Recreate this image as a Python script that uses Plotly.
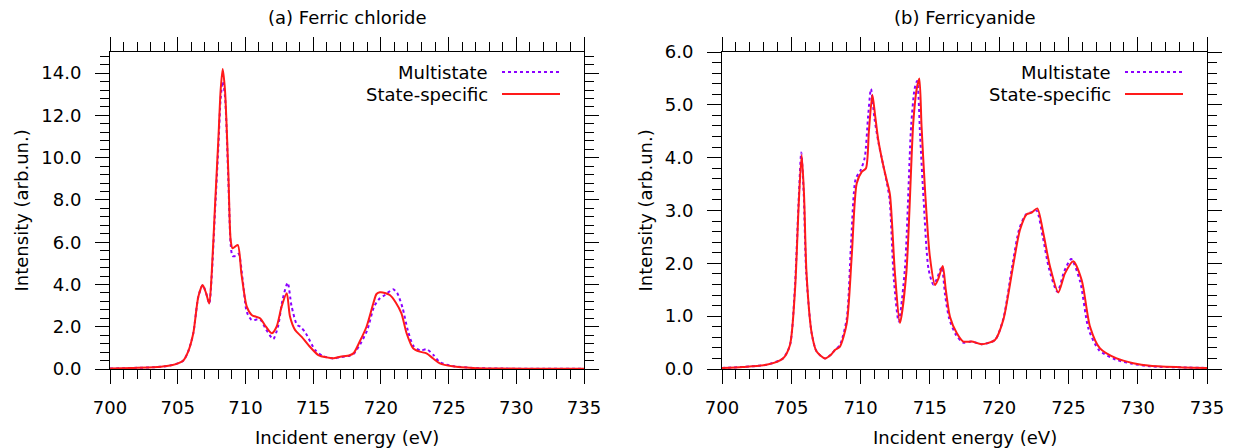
import plotly.graph_objects as go

W, H = 1234, 448

# ---------------- data ----------------
# (a) Ferric chloride
E_a_ms = [700, 701.7, 703.2, 704.2, 704.8, 705.4, 705.77, 706.15, 706.52, 706.84, 707.1, 707.33, 707.51,
          707.75, 708.0, 708.17, 708.32, 708.49, 708.74, 708.91, 709.05, 709.3, 709.5, 709.8, 710.1, 710.46,
          711.08, 711.5, 712.05, 712.4, 712.75, 713.12, 713.4, 713.8, 714.1, 714.45, 715.15, 715.7, 716.5,
          717.0, 717.7, 718.0, 718.5, 719.0, 719.5, 719.93, 720.3, 720.9, 721.2, 721.6, 722.0, 722.4, 722.9,
          723.4, 723.9, 724.35, 725.3, 726.8, 729, 732, 735]
I_a_ms = [0.02, 0.05, 0.08, 0.14, 0.22, 0.39, 0.82, 1.69, 3.42, 3.97, 3.58, 3.1, 4.4,
          7.4, 10.5, 12.8, 13.6, 12.9, 8.9, 5.9, 5.35, 5.35, 5.45, 4.2, 2.7, 2.32,
          2.35, 1.9, 1.42, 2.0, 3.3, 4.08, 3.0, 2.1, 1.98, 1.7, 0.9, 0.62, 0.5,
          0.56, 0.63, 0.72, 1.2, 1.85, 2.95, 3.35, 3.5, 3.77, 3.6, 2.9, 1.8, 1.1, 0.88,
          0.93, 0.65, 0.32, 0.14, 0.05, 0.02, 0.01, 0.01]

E_a_ss = [700, 701.7, 703.2, 704.2, 704.8, 705.4, 705.77, 706.15, 706.52, 706.84, 707.1, 707.33, 707.51,
          707.75, 708.0, 708.17, 708.32, 708.49, 708.74, 708.91, 709.05, 709.43, 709.7, 710.1, 710.46,
          711.08, 711.43, 711.94, 712.3, 712.67, 713.05, 713.29, 713.66, 714.14, 714.64, 715.38, 716.0,
          716.5, 717.0, 717.7, 718.0, 718.44, 718.94, 719.44, 719.68, 719.93, 720.3, 720.66, 721.1, 721.52,
          721.9, 722.38, 722.87, 723.37, 723.86, 724.35, 725.3, 726.8, 729, 732, 735]
I_a_ss = [0.02, 0.05, 0.08, 0.14, 0.22, 0.39, 0.82, 1.69, 3.42, 3.97, 3.58, 3.1, 4.53,
          7.68, 10.84, 13.2, 14.2, 13.2, 9.26, 6.1, 5.71, 5.87, 4.53, 2.95, 2.56,
          2.4, 2.08, 1.69, 2.0, 2.95, 3.58, 2.48, 1.85, 1.53, 1.14, 0.66, 0.55,
          0.51, 0.58, 0.65, 0.76, 1.3, 2.0, 3.1, 3.55, 3.63, 3.6, 3.5, 3.15, 2.63,
          1.69, 0.98, 0.82, 0.74, 0.5, 0.27, 0.13, 0.05, 0.02, 0.01, 0.01]

# (b) Ferricyanide
E_b_ms = [700, 701.5, 703.2, 704.4, 704.9, 705.25, 705.55, 705.72, 705.9, 706.08, 706.47, 706.83, 707.43,
          707.9, 708.15, 708.5, 709.0, 709.3, 709.65, 710.0, 710.3, 710.55, 710.75, 711.0, 711.28, 711.6,
          711.88, 712.1, 712.4, 712.75, 713.2, 713.65, 713.9, 714.08, 714.3, 714.55, 714.9, 715.25, 715.5,
          715.85, 716.1, 716.4, 716.9, 717.41, 718.02, 718.74, 719.7, 720.3, 720.95, 721.45, 721.95, 722.35,
          722.7, 723.15, 723.6, 724.2, 724.7, 725.2, 725.85, 726.45, 727.2, 728.4, 729.6, 730.9, 733.3, 735]
I_b_ms = [0.02, 0.04, 0.08, 0.2, 0.45, 1.5, 3.3, 4.1, 3.3, 1.81, 0.68, 0.33, 0.2,
          0.28, 0.36, 0.45, 0.95, 2.3, 3.6, 3.76, 4.0, 4.8, 5.3, 4.75, 4.3, 3.9,
          3.55, 3.2, 1.7, 0.9, 1.9, 4.6, 5.3, 5.45, 4.4, 3.2, 1.9, 1.6, 1.7,
          1.93, 1.4, 0.95, 0.64, 0.5, 0.52, 0.47, 0.55, 0.95, 1.96, 2.65, 2.93, 2.97,
          3.0, 2.5, 1.9, 1.46, 1.85, 2.08, 1.65, 0.76, 0.36, 0.18, 0.1, 0.05, 0.03, 0.02]

E_b_ss = [700, 701.5, 703.2, 704.4, 704.9, 705.27, 705.55, 705.75, 705.92, 706.1, 706.47, 706.83, 707.43,
          707.9, 708.15, 708.5, 709.0, 709.36, 709.72, 710.08, 710.39, 710.6, 710.85, 711.05, 711.28, 711.6,
          711.88, 712.12, 712.48, 712.84, 713.3, 713.8, 714.05, 714.24, 714.4, 714.65, 715.0, 715.37, 715.6,
          715.93, 716.15, 716.45, 716.94, 717.41, 718.02, 718.74, 719.7, 720.3, 721.0, 721.5, 721.99, 722.35,
          722.75, 723.19, 723.67, 724.27, 724.75, 725.35, 725.96, 726.56, 727.28, 728.48, 729.68, 730.9, 733.3, 735]
I_b_ss = [0.02, 0.04, 0.08, 0.2, 0.45, 1.5, 3.2, 4.05, 3.3, 1.81, 0.68, 0.33, 0.2,
          0.28, 0.36, 0.42, 0.86, 2.13, 3.51, 3.73, 3.8, 4.5, 5.19, 4.8, 4.33, 3.9,
          3.58, 3.3, 1.81, 0.87, 1.81, 4.65, 5.3, 5.5, 4.6, 3.39, 2.13, 1.59, 1.7,
          1.95, 1.5, 0.99, 0.68, 0.52, 0.52, 0.47, 0.55, 0.93, 1.94, 2.63, 2.93, 2.96,
          3.04, 2.57, 1.94, 1.45, 1.81, 2.04, 1.68, 0.8, 0.39, 0.2, 0.11, 0.06, 0.03, 0.02]

series_names = ["Multistate", "State-specific"]
panel_titles = ["(a) Ferric chloride", "(b) Ferricyanide"]
x_title = "Incident energy (eV)"
y_title = "Intensity (arb.un.)"

# ---------------- style ----------------
FONT = "DejaVu Sans"
FS = 18
C_MS = "#8b00ff"
C_SS = "#ff1a1a"

def px(x):
    return x / W

def py(y):
    return 1 - y / H

# plot areas (pixels)
A_L, A_R = 110, 584
B_L, B_R = 722, 1207
TOP, BOT = 52, 369

fig = go.Figure()

def add(xs, ys, name, color, dash, xa, ya):
    fig.add_trace(go.Scatter(x=xs, y=ys, mode="lines", name=name, showlegend=False,
                             line=dict(color=color, width=2, dash=dash, shape="spline", smoothing=0.7),
                             xaxis=xa, yaxis=ya))

add(E_a_ms, I_a_ms, series_names[0], C_MS, "dot", "x", "y")
add(E_a_ss, I_a_ss, series_names[1], C_SS, "solid", "x", "y")
add(E_b_ms, I_b_ms, series_names[0], C_MS, "dot", "x2", "y2")
add(E_b_ss, I_b_ss, series_names[1], C_SS, "solid", "x2", "y2")

common = dict(showline=True, linecolor="black", linewidth=1, mirror="ticks",
              ticks="outside", ticklen=14, tickwidth=1, tickcolor="black",
              showgrid=False, zeroline=False, automargin=False,
              tickfont=dict(family=FONT, size=FS, color="black"))

xcommon = dict(common, range=[700, 735], tick0=700, dtick=5,
               minor=dict(dtick=1, ticks="outside", ticklen=9, tickwidth=1, tickcolor="black", showgrid=False),
               ticklabelstandoff=8)

fig.update_layout(
    template="none",
    width=W, height=H,
    margin=dict(l=0, r=0, t=0, b=0, pad=0, autoexpand=False),
    paper_bgcolor="white", plot_bgcolor="white",
    showlegend=False,
    font=dict(family=FONT, size=FS, color="black"),
    xaxis=dict(xcommon, domain=[px(A_L), px(A_R)], anchor="y"),
    yaxis=dict(common, domain=[py(BOT), py(TOP)], range=[0, 15], tick0=0, dtick=2, tickformat=".1f",
               minor=dict(dtick=0.4, ticks="outside", ticklen=9, tickwidth=1, tickcolor="black", showgrid=False),
               anchor="x", ticklabelstandoff=10),
    xaxis2=dict(xcommon, domain=[px(B_L), px(B_R)], anchor="y2"),
    yaxis2=dict(common, domain=[py(BOT), py(TOP)], range=[0, 6], tick0=0, dtick=1, tickformat=".1f",
                minor=dict(dtick=0.2, ticks="outside", ticklen=9, tickwidth=1, tickcolor="black", showgrid=False),
                anchor="x2", ticklabelstandoff=10),
)

ann = []
shapes = []
for (L, R, title) in [(A_L, A_R, panel_titles[0]), (B_L, B_R, panel_titles[1])]:
    cx = (L + R) / 2
    ann.append(dict(text=title, x=px(cx), y=py(18), xref="paper", yref="paper",
                    xanchor="center", yanchor="middle", showarrow=False, font=dict(size=FS)))
    ann.append(dict(text=x_title, x=px(cx), y=py(437), xref="paper", yref="paper",
                    xanchor="center", yanchor="middle", showarrow=False, font=dict(size=FS)))

for xc in [21, 645]:
    ann.append(dict(text=y_title, x=px(xc), y=py((TOP + BOT) / 2), xref="paper", yref="paper",
                    xanchor="center", yanchor="middle", textangle=-90, showarrow=False, font=dict(size=FS)))

# legends (key samples to the right of the text, as in the original)
for (txt_right, l0, l1) in [(490, 502, 560), (1113, 1125, 1183)]:
    for i, (name, color, dash) in enumerate([(series_names[0], C_MS, "dot"), (series_names[1], C_SS, "solid")]):
        yy = 72 + 22 * i
        ann.append(dict(text=name, x=px(txt_right), y=py(yy), xref="paper", yref="paper",
                        xanchor="right", yanchor="middle", showarrow=False, font=dict(size=FS)))
        shapes.append(dict(type="line", xref="paper", yref="paper", x0=px(l0), x1=px(l1), y0=py(yy), y1=py(yy),
                           line=dict(color=color, width=2, dash=dash)))

fig.update_layout(annotations=ann, shapes=shapes)

fig.write_html("out.html")
